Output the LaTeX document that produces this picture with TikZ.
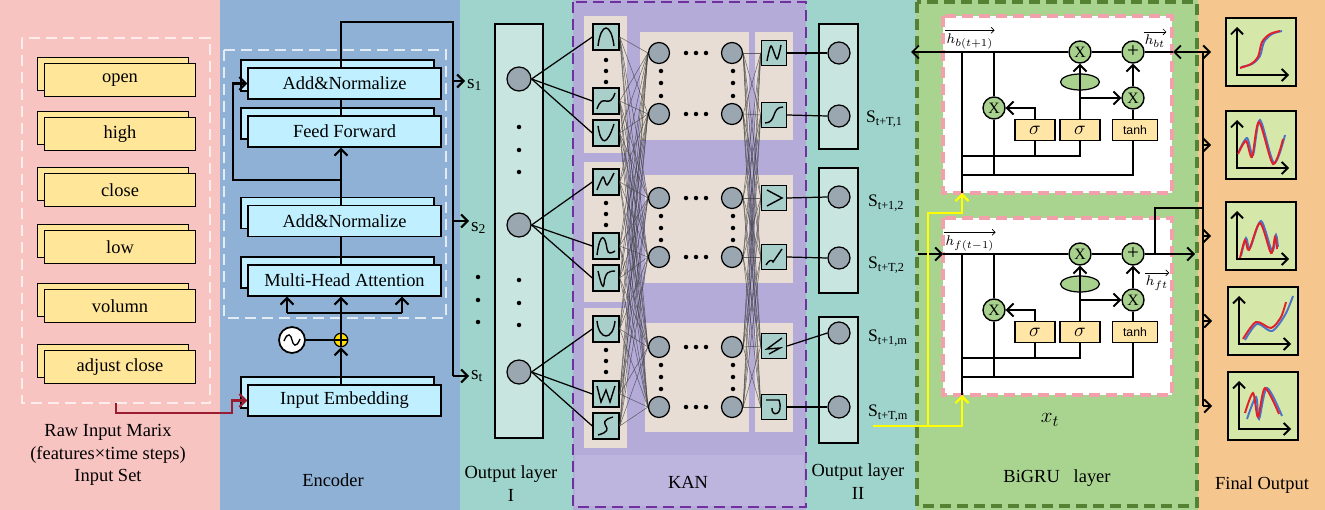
\documentclass[tikz,border=0pt]{standalone}
\usepackage{fontspec}
\setmainfont{Liberation Serif}
\newfontfamily\tanhfont{Liberation Sans}
\usetikzlibrary{arrows.meta,shapes.geometric}

\definecolor{inpink}{HTML}{F8C4C2}
\definecolor{encblue}{HTML}{8EB1D5}
\definecolor{outteal}{HTML}{9ED4CB}
\definecolor{kanpurple}{HTML}{B4ABD9}
\definecolor{kanlow}{HTML}{BDB5DE}
\definecolor{kanborder}{HTML}{7030A0}
\definecolor{gruback}{HTML}{A9D48F}
\definecolor{gruborder}{HTML}{548235}
\definecolor{finorange}{HTML}{F5C78F}
\definecolor{featyellow}{HTML}{FFE699}
\definecolor{enccyan}{HTML}{C0F0FF}
\definecolor{blockbeige}{HTML}{E7DDD5}
\definecolor{splinefill}{HTML}{A9CFCB}
\definecolor{neurongray}{HTML}{9AA6B0}
\definecolor{layerfill}{HTML}{C8E5E0}
\definecolor{gatefill}{HTML}{A9D18E}
\definecolor{gateyellow}{HTML}{FFE5A6}
\definecolor{cellpink}{HTML}{F2A0AA}
\definecolor{plotfill}{HTML}{D6E7AA}
\definecolor{embred}{HTML}{9B1B30}
\definecolor{xyellow}{HTML}{FFFF00}
\definecolor{plotred}{HTML}{E0202A}
\definecolor{plotblue}{HTML}{4A74C8}

\tikzset{
  lbl/.style={font=\fontsize{10.5}{13}\selectfont, inner sep=1pt, align=center},
  feat/.style={draw, fill=featyellow, line width=0.7pt, minimum width=3.02cm, minimum height=0.66cm, inner sep=0pt, font=\fontsize{10.5}{12}\selectfont},
  encbox/.style={draw, fill=enccyan, line width=0.7pt, minimum width=3.86cm, minimum height=0.62cm, inner sep=0pt, font=\fontsize{10.5}{12}\selectfont},
  tip/.style={-{Straight Barb[length=1.3mm,width=2.6mm]}},
  encline/.style={line width=1.2pt},
  encarrow/.style={encline, tip},
  neuron/.style={circle, draw, fill=neurongray, line width=0.7pt, minimum size=0.48cm, inner sep=0pt},
  kanneuron/.style={neuron, minimum size=0.42cm},
  outneuron/.style={neuron, minimum size=0.44cm},
  layerbox/.style={draw, fill=layerfill, line width=0.8pt, inner sep=0pt},
  spline/.style={draw, fill=splinefill, line width=0.8pt, minimum size=0.52cm, inner sep=0pt},
  curve/.style={line width=0.8pt},
  thinline/.style={line width=0.7pt},
  kanwire/.style={draw=black!75, line width=0.3pt, opacity=0.75},
  frame/.style={dashed, dash pattern=on 0.22cm off 0.12cm, line width=1.4pt},
  gatecirc/.style={circle, draw, fill=gatefill, line width=0.8pt, minimum size=0.44cm, inner sep=0pt, font=\fontsize{9}{10}\selectfont},
  gatebox/.style={draw, fill=gateyellow, line width=0.7pt, minimum width=0.8cm, minimum height=0.42cm, inner sep=0pt, font=\fontsize{11}{12}\selectfont},
  gateell/.style={ellipse, draw, fill=gatefill, line width=0.7pt, minimum width=0.78cm, minimum height=0.32cm, inner sep=0pt},
  gruline/.style={line width=1.1pt},
  gruarrow/.style={gruline, tip},
  yelarrow/.style={draw=xyellow, line width=1.3pt, tip},
  hlbl/.style={font=\fontsize{8}{9}\selectfont, inner sep=0.5pt},
  overarrow/.style={line width=0.4pt, -{Straight Barb[length=0.6mm,width=1.2mm]}},
  plotbox/.style={draw, fill=plotfill, line width=1.1pt, minimum width=1.4cm, minimum height=1.36cm, inner sep=0pt},
  plotline/.style={line width=1.1pt}
}

\begin{document}
\begin{tikzpicture}[x=0.02cm, y=-0.02cm]
  \useasboundingbox (0,0) rectangle (1325,510);
  % panels
  \fill[inpink] (0,0) rectangle (220,510);
  \fill[encblue] (220,0) rectangle (460,510);
  \fill[outteal] (460,0) rectangle (573,510);
  \fill[kanpurple] (573,0) rectangle (806,510);
  \fill[kanlow] (575,455) rectangle (804,506);
  \fill[outteal] (806,0) rectangle (916,510);
  \fill[gruback] (916,0) rectangle (1198,510);
  \fill[finorange] (1198,0) rectangle (1325,510);
  \draw[frame, kanborder, line width=1.6pt] (573,2) rectangle (806,507);
  \draw[frame, gruborder, line width=2pt] (917,2) rectangle (1197,506);

  % input set
  \draw[frame, white!70!inpink] (22,38) rectangle (210,403);
  \node[feat] (openbk) at (113,74) {};
  \node[feat] (open) at (120,80) {open};
  \node[feat] (highbk) at (113,128) {};
  \node[feat] (high) at (120,134) {high};
  \node[feat] (closebk) at (113,184) {};
  \node[feat] (close) at (120,190) {close};
  \node[feat] (lowbk) at (113,241) {};
  \node[feat] (low) at (120,247) {low};
  \node[feat] (volumnbk) at (113,300) {};
  \node[feat] (volumn) at (120,306) {volumn};
  \node[feat] (adjbk) at (113,361) {};
  \node[feat] (adj) at (120,367) {adjust close};
  \node[lbl] (rawlbl) at (108,455) {Raw Input Marix\\(features\texttimes time steps)\\Input Set};
  \coordinate (rawout) at (116,403);
  \coordinate (redmid) at (232,413);

  % encoder
  \draw[frame, white!75!encblue] (224,50) rectangle (446,318);
  \node[encbox] (an1bk) at (337.5,75.5) {};
  \node[encbox] (an1) at (344.5,83.5) {Add\&Normalize};
  \node[encbox] (ffbk) at (337.5,123.5) {};
  \node[encbox] (ff) at (344.5,131.5) {Feed Forward};
  \node[encbox] (an2bk) at (337.5,213) {};
  \node[encbox] (an2) at (344.5,221) {Add\&Normalize};
  \node[encbox] (mhabk) at (337.5,272.5) {};
  \node[encbox] (mha) at (344.5,280.5) {Multi-Head Attention};
  \node[encbox] (iebk) at (337.5,392.5) {};
  \node[encbox] (ie) at (344.5,400.5) {Input Embedding};
  \node[circle, draw, fill=white, line width=1pt, minimum size=0.52cm, inner sep=0pt] (sine) at (292,340) {};
  \draw[line width=0.8pt, shift={(sine.center)}] (-8,1) .. controls (-4,-9) and (-1,-5) .. (0,0) .. controls (1,5) and (4,9) .. (8,-1);
  \node[circle, draw, fill=yellow!80!orange, line width=0.7pt, minimum size=0.27cm, inner sep=0pt] (plus) at (341,340) {};
  \draw[line width=0.6pt] (plus.north) -- (plus.south) (plus.west) -- (plus.east);
  \node[lbl] (enclbl) at (333,480) {Encoder};

  \draw[embred, line width=1.2pt, tip] (rawout) |- (redmid) |- (ie.west);
  \draw[encarrow] (ie.north -| plus) -- (plus.south);
  \draw[encline] (sine.east) -- (plus.west);
  \coordinate (split) at (341,313);
  \coordinate (splitl) at (287,313);
  \coordinate (splitr) at (402,313);
  \draw[encline] (plus.north) -- (split);
  \draw[encline] (splitl) -- (splitr);
  \draw[encarrow] (splitl) -- (splitl |- mha.south);
  \draw[encarrow] (split) -- (split |- mha.south);
  \draw[encarrow] (splitr) -- (splitr |- mha.south);
  \draw[encline] (mha.north -| plus) -- (an2.south -| plus);
  \draw[encarrow] (an2.north -| plus) -- (ff.south -| plus);
  \coordinate (res) at (341,180);
  \coordinate (resl) at (233,180);
  \draw[encarrow] (res) -- (resl) |- (an1.west);
  \draw[encline] (ff.north -| plus) -- (an1.south -| plus);
  \coordinate (enctop) at (341,22);
  \coordinate (busr) at (453,22);
  \coordinate (bus1) at (453,81);
  \coordinate (bus2) at (453,221);
  \coordinate (bust) at (453,376);
  \draw[encline] (an1.north -| plus) -- (enctop) -- (busr) -- (bust);
  \node[inner sep=1pt, anchor=west, font=\fontsize{11}{12}\selectfont] (s1) at (465,85) {s\textsubscript{1}};
  \node[inner sep=1pt, anchor=west, font=\fontsize{11}{12}\selectfont] (s2) at (469,228) {s\textsubscript{2}};
  \node[inner sep=1pt, anchor=west, font=\fontsize{11}{12}\selectfont] (st) at (469,376) {s\textsubscript{t}};
  \draw[encarrow] (bus1) -- (bus1 -| s1.west);
  \draw[encarrow] (bus2) -- (bus2 -| s2.west);
  \draw[encarrow] (bust) -- (bust -| st.west);
  \foreach \y in {277,300,322} \fill (478,\y) circle[radius=0.045cm];

  % output layer I
  \node[layerbox, minimum width=0.96cm, minimum height=8.28cm] (ol1) at (519,231) {};
  \node[neuron] (n1) at (519,79) {};
  \node[neuron] (n2) at (519,225) {};
  \node[neuron] (n3) at (519,372) {};
  \foreach \y in {127,150,172,280,303,325} \fill (519,\y) circle[radius=0.045cm];
  \node[lbl] (ol1lbl) at (511,484) {Output layer\\I};

  % KAN
  \fill[blockbeige] (584,16) rectangle (627,153);
  \fill[blockbeige] (584,162) rectangle (627,302);
  \fill[blockbeige] (584,308) rectangle (627,448);
  \fill[blockbeige] (640,32) rectangle (749,140);
  \fill[blockbeige] (645,175) rectangle (749,283);
  \fill[blockbeige] (645,323) rectangle (749,432);
  \fill[blockbeige] (755,32) rectangle (793,140);
  \fill[blockbeige] (755,175) rectangle (793,283);
  \fill[blockbeige] (755,323) rectangle (793,432);
  \node[spline] (sp1) at (606,37) {};
  \node[spline] (sp2) at (606,101) {};
  \node[spline] (sp3) at (606,133) {};
  \node[spline] (sp4) at (606,182) {};
  \node[spline] (sp5) at (606,246) {};
  \node[spline] (sp6) at (606,278) {};
  \node[spline] (sp7) at (606,329) {};
  \node[spline] (sp8) at (606,394) {};
  \node[spline] (sp9) at (606,426) {};
  \foreach \y in {60,71,82,203,214,225,350,361,372} \fill (606,\y) circle[radius=0.045cm];
  \draw[curve, shift={(sp1.center)}] (-8,9) .. controls (-5,-15) and (5,-15) .. (8,9);
  \draw[curve, shift={(sp2.center)}] (-9,8) .. controls (-3,-10) and (3,10) .. (9,-8);
  \draw[curve, shift={(sp3.center)}] (-8,-7) .. controls (-5,13) and (1,13) .. (8,-9);
  \draw[curve, shift={(sp4.center)}] plot[smooth] coordinates {(-9,8) (-3,-5) (1,3) (8,-9)};
  \draw[curve, shift={(sp5.center)}] (-9,9) .. controls (-6,-14) and (-1,-12) .. (1,3) .. controls (2,9) and (6,7) .. (9,5);
  \draw[curve, shift={(sp6.center)}] (-8,-7) .. controls (-5,6) and (-3,12) .. (-2,6) .. controls (-1,-6) and (3,-7) .. (9,-7);
  \draw[curve, shift={(sp7.center)}] (-9,-8) .. controls (-7,12) and (7,12) .. (9,-8);
  \draw[curve, shift={(sp8.center)}] (-9,-8) -- (-5,8) -- (0,-4) -- (4,8) -- (9,-8);
  \draw[curve, shift={(sp9.center)}] (7,-9) .. controls (-14,-3) and (14,3) .. (-8,9);

  \node[kanneuron] (hl1) at (659,53) {};
  \node[kanneuron] (hl2) at (659,114) {};
  \node[kanneuron] (hl3) at (659,198) {};
  \node[kanneuron] (hl4) at (659,257) {};
  \node[kanneuron] (hl5) at (659,347) {};
  \node[kanneuron] (hl6) at (659,407) {};
  \node[kanneuron] (hr1) at (732,53) {};
  \node[kanneuron] (hr2) at (732,114) {};
  \node[kanneuron] (hr3) at (732,198) {};
  \node[kanneuron] (hr4) at (732,257) {};
  \node[kanneuron] (hr5) at (732,347) {};
  \node[kanneuron] (hr6) at (732,407) {};
  \foreach \y in {53,114,198,257,347,407} \foreach \x in {686,696,706} \fill (\x,\y) circle[radius=0.045cm];
  \foreach \y in {71,83,96,216,228,240,365,377,389} {
    \fill (661,\y) circle[radius=0.045cm];
    \fill (733,\y) circle[radius=0.045cm];
  }

  \node[spline, minimum size=0.5cm] (sq1) at (774,53) {};
  \node[spline, minimum size=0.5cm] (sq2) at (774,115) {};
  \node[spline, minimum size=0.5cm] (sq3) at (774,198) {};
  \node[spline, minimum size=0.5cm] (sq4) at (774,257) {};
  \node[spline, minimum size=0.5cm] (sq5) at (774,346) {};
  \node[spline, minimum size=0.5cm] (sq6) at (774,407) {};
  \draw[curve, shift={(sq1.center)}] plot[smooth] coordinates {(-7,8) (-3,-7) (3,6) (7,-8)};
  \draw[curve, shift={(sq2.center)}] (-9,8) .. controls (3,8) and (-3,-8) .. (9,-8);
  \draw[curve, shift={(sq3.center)}] (-7,-8) -- (8,0) -- (-7,8);
  \draw[curve, shift={(sq4.center)}] (-8,8) .. controls (-5,3) and (-2,2) .. (-1,5) -- (8,-8);
  \draw[curve, shift={(sq5.center)}] (8,-8) -- (-7,3) -- (6,2) -- (-5,8);
  \draw[curve, shift={(sq6.center)}] (-8,-7) -- (5,-7) .. controls (10,9) and (-3,10) .. (-2,1);

  \foreach \i in {1,...,9} \foreach \j in {1,...,6} \draw[kanwire] (sp\i.east) -- (hl\j.west);
  \foreach \i in {1,...,6} \foreach \j in {1,...,6} \draw[kanwire] (hr\i.east) -- (sq\j.west);
  \foreach \n/\a/\b/\c in {n1/1/2/3, n2/4/5/6, n3/7/8/9} {
    \draw[thinline] (\n.east) -- (sp\a.west);
    \draw[thinline] (\n.east) -- (sp\b.west);
    \draw[thinline] (\n.east) -- (sp\c.west);
  }
  \node[lbl] (kanlbl) at (688,482) {KAN};

  % output layer II
  \node[layerbox, minimum width=0.78cm, minimum height=2.5cm] (ob1) at (838.5,86.5) {};
  \node[layerbox, minimum width=0.78cm, minimum height=2.5cm] (ob2) at (838.5,230.5) {};
  \node[layerbox, minimum width=0.78cm, minimum height=2.52cm] (ob3) at (838.5,380) {};
  \node[outneuron] (on1) at (839,53) {};
  \node[outneuron] (on2) at (839,116) {};
  \node[outneuron] (on3) at (839,197) {};
  \node[outneuron] (on4) at (839,258) {};
  \node[outneuron] (on5) at (839,333) {};
  \node[outneuron] (on6) at (839,407) {};
  \foreach \i in {1,...,6} \draw[thinline] (sq\i.east) -- (on\i.west);
  \node[inner sep=1pt, anchor=west, font=\fontsize{10}{12}\selectfont] (lab2) at (864,119) {S\textsubscript{t+T,1}};
  \node[inner sep=1pt, anchor=west, font=\fontsize{10}{12}\selectfont] (lab3) at (866,203) {S\textsubscript{t+1,2}};
  \node[inner sep=1pt, anchor=west, font=\fontsize{10}{12}\selectfont] (lab4) at (866,265) {S\textsubscript{t+T,2}};
  \node[inner sep=1pt, anchor=west, font=\fontsize{10}{12}\selectfont] (lab5) at (866,338) {S\textsubscript{t+1,m}};
  \node[inner sep=1pt, anchor=west, font=\fontsize{10}{12}\selectfont] (lab6) at (866,413) {S\textsubscript{t+T,m}};
  \node[lbl] (ol2lbl) at (858,482) {Output layer\\II};

  % BiGRU cells
  \foreach \cl/\dy in {b/0,f/202} {
    \begin{scope}[shift={(0,\dy)}]
      \draw[frame, cellpink, fill=white, line width=1.8pt] (943,16) rectangle (1172,193);
      \node[gatecirc] (\cl mul1) at (1080,52) {X};
      \node[gatecirc] (\cl add) at (1133,52) {\fontsize{12}{12}\selectfont +};
      \node[gatecirc] (\cl mul2) at (994,108) {X};
      \node[gatecirc] (\cl mul3) at (1133,98) {X};
      \node[gatebox] (\cl sg1) at (1035,130) {$\sigma$};
      \node[gatebox] (\cl sg2) at (1080,130) {$\sigma$};
      \node[gatebox, minimum width=0.9cm, font=\tanhfont\fontsize{7}{8}\selectfont] (\cl tanh) at (1135,130) {tanh};
      \node[gateell] (\cl ell) at (1080,82) {};
      \coordinate (\cl in) at (962,52);
      \coordinate (\cl bot) at (962,193);
      \coordinate (\cl rz) at (994,52);
      \coordinate (\cl rzb) at (994,175);
      \coordinate (\cl rj) at (1080,98);
      \coordinate (\cl wa) at (962,156);
      \coordinate (\cl wb) at (962,175);
      \draw[gruline] (\cl in) -- (\cl bot);
      \draw[gruline] (\cl rz) -- (\cl mul2.north);
      \draw[gruline] (\cl mul2.south) -- (\cl rzb);
      \draw[gruarrow] (\cl sg1.north) |- (\cl mul2.east);
      \draw[gruline] (\cl sg2.north) -- (\cl rj);
      \draw[gruarrow] (\cl rj) -- (\cl mul3.west);
      \draw[gruarrow] (\cl rj) -- (\cl mul1.south);
      \draw[gruline] (\cl tanh.north -| \cl mul3) -- (\cl mul3.south);
      \draw[gruarrow] (\cl mul3.north) -- (\cl add.south);
      \draw[gruline] (\cl add.west) -- (\cl mul1.east);
      \draw[gruline] (\cl wa) -| (\cl sg2.south);
      \draw[gruline] (\cl sg1.south) -- (\cl sg1.south |- \cl wa);
      \draw[gruline] (\cl wb) -| (\cl tanh.south -| \cl mul3);
    \end{scope}
  }
  % backward cell
  \coordinate (busT) at (1203,52);
  \coordinate (brin) at (1173,52);
  \coordinate (hbout) at (911,52);
  \draw[gruarrow] (busT) -- (brin);
  \draw[gruline] (brin) -- (badd.east);
  \draw[gruarrow] (bmul1.west) -- (hbout);
  \node[hlbl] (hbl) at (970,41) {$h_{b(t+1)}$};
  \node[hlbl] (hbr) at (1155,41) {$h_{bt}$};
  \draw[overarrow] ([yshift=1pt]hbl.north west) -- ([yshift=1pt]hbl.north east);
  \draw[overarrow] ([yshift=1pt]hbr.north west) -- ([yshift=1pt]hbr.north east);
  % forward cell
  \coordinate (fstart) at (918,254);
  \coordinate (fin0) at (943,254);
  \coordinate (fout) at (1195,254);
  \coordinate (fbr) at (1155,254);
  \coordinate (fbr2) at (1155,208);
  \coordinate (bus3) at (1203,208);
  \draw[gruarrow] (fstart) -- (fin0);
  \draw[gruline] (fin0) -- (fmul1.west);
  \draw[gruarrow] (fadd.east) -- (fout);
  \draw[gruline] (fbr) -- (fbr2) -- (bus3);
  \node[hlbl] (hfl) at (970,243) {$h_{f(t-1)}$};
  \node[hlbl] (hfr) at (1157,283) {$h_{ft}$};
  \draw[overarrow] ([yshift=1pt]hfl.north west) -- ([yshift=1pt]hfl.north east);
  \draw[overarrow] ([yshift=1pt]hfr.north west) -- ([yshift=1pt]hfr.north east);
  % x_t input
  \coordinate (ystart) at (873,426);
  \coordinate (ysplit) at (928,426);
  \coordinate (yf) at (962,426);
  \coordinate (yb1) at (928,213);
  \coordinate (yb2) at (962,213);
  \draw[yelarrow] (ystart) -- (yf) -- (fbot);
  \draw[yelarrow] (ysplit) -- (yb1) -- (yb2) -- (bbot);
  \node[font=\fontsize{13}{15}\selectfont] (xt) at (1050,420) {$x_t$};
  \node[lbl] (grulbl) at (1057,478) {BiGRU\ \ \ layer};

  % final output
  \node[plotbox] (pb1) at (1261,52) {};
  \node[plotbox] (pb2) at (1261,145) {};
  \node[plotbox] (pb3) at (1261,236) {};
  \node[plotbox] (pb4) at (1263,321) {};
  \node[plotbox] (pb5) at (1263,406) {};
  \foreach \p in {pb1,pb2,pb3,pb4,pb5} {
    \draw[plotline, {Straight Barb[length=1.2mm,width=2.4mm]}-{Straight Barb[length=1.2mm,width=2.4mm]}, shift={(\p.center)}] (-24,-25) -- (-24,23) -- (28,23);
  }
  \draw[plotline, plotblue, shift={(pb1.center)}] plot[smooth] coordinates {(-20,15) (-9,12) (-1,4) (3,-10) (11,-18) (21,-21)};
  \draw[plotline, plotred, shift={(pb1.center)}] plot[smooth] coordinates {(-21,16) (-10,12) (-3,5) (1,-10) (9,-18) (19,-21)};
  \draw[plotline, plotblue, shift={(pb2.center)}] plot[smooth] coordinates {(-22,6) (-14,-7) (-8,10) (-1,-25) (13,18) (24,-10)};
  \draw[plotline, plotred, shift={(pb2.center)}] plot[smooth] coordinates {(-23,9) (-15,-4) (-9,12) (-2,-23) (12,19) (22,-6)};
  \draw[plotline, plotblue, shift={(pb3.center)}] plot[smooth] coordinates {(-20,20) (-15,2) (-11,12) (0,-15) (11,15) (15,-1) (17,11)};
  \draw[plotline, plotred, shift={(pb3.center)}] plot[smooth] coordinates {(-21,22) (-16,4) (-12,14) (-1,-13) (10,17) (14,1) (16,13)};
  \draw[plotline, plotblue, shift={(pb4.center)}] plot[smooth] coordinates {(-18,19) (-6,3) (9,10) (22,-6) (30,-25)};
  \draw[plotline, plotred, shift={(pb4.center)}] plot[smooth] coordinates {(-20,18) (-7,1) (8,7) (18,-4) (23,-19)};
  \draw[plotline, plotblue, shift={(pb5.center)}] plot[smooth] coordinates {(-16,13) (-7,-9) (-4,13) (4,-18) (19,10)};
  \draw[plotline, plotred, shift={(pb5.center)}] plot[smooth] coordinates {(-18,7) (-10,-13) (-5,11) (2,-18) (16,8)};
  \coordinate (busb2) at (1203,145);
  \coordinate (busb3) at (1203,236);
  \coordinate (busb4) at (1203,321);
  \coordinate (busb5) at (1203,406);
  \draw[gruline] (busT) -- (busb5);
  \draw[gruarrow, shorten >=0.28cm] (busT) -- (busT -| pb1.west);
  \draw[gruarrow, shorten >=0.28cm] (busb2) -- (busb2 -| pb2.west);
  \draw[gruarrow, shorten >=0.28cm] (busb3) -- (busb3 -| pb3.west);
  \draw[gruarrow, shorten >=0.3cm] (busb4) -- (busb4 -| pb4.west);
  \draw[gruarrow, shorten >=0.3cm] (busb5) -- (busb5 -| pb5.west);
  \node[lbl] (finlbl) at (1262,485) {Final Output};
\end{tikzpicture}
\end{document}
